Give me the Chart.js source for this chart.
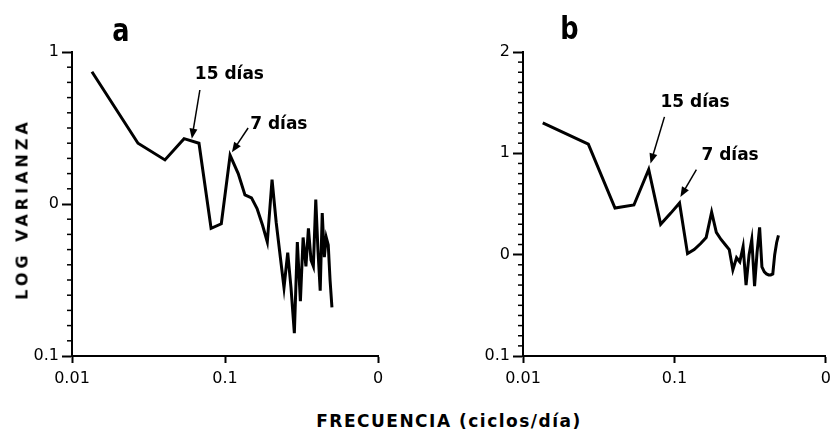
<!DOCTYPE html>
<html>
<head>
<meta charset="utf-8">
<script src="https://cdn.jsdelivr.net/npm/chart.js@4.4.1/dist/chart.umd.min.js"></script>
<style>
body{margin:0;background:#fff;width:837px;height:436px;position:relative;overflow:hidden;font-family:"DejaVu Sans",sans-serif;color:#000;}
canvas{position:absolute;top:0;}
#graficaA{left:0;}
#graficaB{left:420px;}
.letra{position:absolute;font-weight:bold;font-size:32px;line-height:1;transform:scaleX(0.8);}
#ytitulo{position:absolute;left:22px;top:209px;transform:translate(-50%,-50%) rotate(-90deg);font-size:16px;font-weight:bold;letter-spacing:4px;white-space:nowrap;}
#xtitulo{position:absolute;left:449px;top:421px;transform:translate(-50%,-50%);font-size:17px;font-weight:bold;letter-spacing:1.5px;white-space:nowrap;}
</style>
</head>
<body>
<canvas id="graficaA" width="420" height="400"></canvas>
<canvas id="graficaB" width="417" height="400"></canvas>
<div class="letra" style="left:110px;top:14px;">a</div>
<div class="letra" style="left:558px;top:12px;">b</div>
<div id="ytitulo">LOG VARIANZA</div>
<div id="xtitulo">FRECUENCIA (ciclos/día)</div>
<script>
// frecuencias (ciclos/dia) de cada punto del espectro
const frecuencias = [0.0135, 0.027, 0.0405, 0.054, 0.0676, 0.0811, 0.0946, 0.108, 0.122, 0.135,
    0.149, 0.162, 0.176, 0.189, 0.203, 0.216, 0.230, 0.243, 0.257, 0.270,
    0.284, 0.297, 0.311, 0.324, 0.338, 0.351, 0.365, 0.378, 0.392, 0.405,
    0.419, 0.432, 0.446, 0.459, 0.473, 0.486, 0.5];

// log varianza, medida en decadas desde el fondo del eje
const varianzaA = [1.87, 1.40, 1.29, 1.43, 1.40, 0.84, 0.87, 1.32, 1.20, 1.06,
    1.04, 0.97, 0.86, 0.75, 1.16, 0.88, 0.65, 0.45, 0.68, 0.45,
    0.15, 0.75, 0.36, 0.78, 0.59, 0.84, 0.63, 0.59, 1.03, 0.70,
    0.43, 0.94, 0.65, 0.78, 0.73, 0.50, 0.32];
const varianzaB = [2.30, 2.09, 1.46, 1.49, 1.84, 1.30, 1.41, 1.51, 1.01, 1.05,
    1.11, 1.17, 1.42, 1.22, 1.15, 1.10, 1.05, 0.85, 0.97, 0.93,
    1.08, 0.70, 1.00, 1.15, 0.69, 1.02, 1.27, 0.88, 0.83, 0.81,
    0.80, 0.80, 0.81, 1.00, 1.12, 1.19];

// etiquetas de los ejes (tal como salen en la figura)
const xTicks = [0.01, 0.1, 1];
const xEtiquetas = ['0.01', '0.1', '0'];
const yTicksA = [0, 1, 2];
const yEtiquetasA = ['0.1', '0', '1'];
const yTicksB = [0, 1, 2, 3];
const yEtiquetasB = ['0.1', '0', '1', '2'];

// flechas con texto: [texto, x texto, y texto, x desde, y desde, x hasta, y hasta]
const notasA = [
    ['15 días', 0.0635, 1.85, 0.0685, 1.75, 0.0607, 1.43],
    ['7 días', 0.146, 1.52, 0.1416, 1.50, 0.111, 1.34]
];
const notasB = [
    ['15 días', 0.0809, 2.50, 0.0859, 2.36, 0.0695, 1.90],
    ['7 días', 0.1506, 1.98, 0.1396, 1.84, 0.1094, 1.57]
];

const fuente = {family: 'DejaVu Sans', size: 16};

// ticks pequeños del eje vertical (cada 0.1)
const ticksMenores = {
    id: 'ticksMenores',
    afterDraw(chart) {
        const y = chart.scales.y;
        const ctx = chart.ctx;
        const izq = chart.chartArea.left;
        ctx.save();
        ctx.strokeStyle = '#000';
        ctx.lineWidth = 1.5;
        for (let i = Math.round(y.min * 10); i <= Math.round(y.max * 10); i++) {
            if (i % 10 === 0) continue;
            const py = y.getPixelForValue(i / 10);
            ctx.beginPath();
            ctx.moveTo(izq - 5, py);
            ctx.lineTo(izq, py);
            ctx.stroke();
        }
        ctx.restore();
    }
};

// textos con flecha
const flechas = {
    id: 'flechas',
    afterDatasetsDraw(chart, args, opts) {
        const ctx = chart.ctx;
        const sx = chart.scales.x, sy = chart.scales.y;
        ctx.save();
        ctx.fillStyle = '#000';
        ctx.strokeStyle = '#000';
        ctx.font = 'bold 17px "DejaVu Sans"';
        ctx.textBaseline = 'middle';
        opts.notas.forEach(n => {
            ctx.fillText(n[0], sx.getPixelForValue(n[1]), sy.getPixelForValue(n[2]));
            const x1 = sx.getPixelForValue(n[3]), y1 = sy.getPixelForValue(n[4]);
            const x2 = sx.getPixelForValue(n[5]), y2 = sy.getPixelForValue(n[6]);
            const ang = Math.atan2(y2 - y1, x2 - x1);
            ctx.lineWidth = 1.5;
            ctx.beginPath();
            ctx.moveTo(x1, y1);
            ctx.lineTo(x2 - 8 * Math.cos(ang), y2 - 8 * Math.sin(ang));
            ctx.stroke();
            ctx.beginPath();
            ctx.moveTo(x2, y2);
            ctx.lineTo(x2 - 10 * Math.cos(ang) + 4 * Math.sin(ang), y2 - 10 * Math.sin(ang) - 4 * Math.cos(ang));
            ctx.lineTo(x2 - 10 * Math.cos(ang) - 4 * Math.sin(ang), y2 - 10 * Math.sin(ang) + 4 * Math.cos(ang));
            ctx.closePath();
            ctx.fill();
        });
        ctx.restore();
    }
};

function dibujarGrafica(id, valores, yMax, yTicks, yEtiquetas, notas, anchoY, padDer) {
    const puntos = valores.map((v, i) => ({x: frecuencias[i], y: v}));
    return new Chart(document.getElementById(id), {
        type: 'line',
        data: {
            datasets: [{
                data: puntos,
                borderColor: '#000',
                borderWidth: 3,
                pointRadius: 0,
                tension: 0,
                fill: false
            }]
        },
        options: {
            responsive: false,
            animation: false,
            layout: {padding: {top: 52, right: padDer, left: 0, bottom: 0}},
            plugins: {
                legend: {display: false},
                tooltip: {enabled: false},
                flechas: {notas: notas}
            },
            scales: {
                x: {
                    type: 'logarithmic',
                    min: 0.01,
                    max: 1,
                    afterBuildTicks: s => { s.ticks = xTicks.map(v => ({value: v})); },
                    afterFit: s => { s.height = 44; },
                    ticks: {
                        autoSkip: false,
                        maxRotation: 0,
                        padding: 6,
                        color: '#000',
                        font: fuente,
                        callback: (v, i) => xEtiquetas[i]
                    },
                    grid: {drawOnChartArea: false, drawTicks: true, tickLength: 7, tickWidth: 2, tickColor: '#000'},
                    border: {display: true, color: '#000', width: 2}
                },
                y: {
                    type: 'linear',
                    min: 0,
                    max: yMax,
                    afterBuildTicks: s => { s.ticks = yTicks.map(v => ({value: v})); },
                    afterFit: s => { s.width = anchoY; },
                    ticks: {
                        autoSkip: false,
                        padding: 3,
                        color: '#000',
                        font: fuente,
                        callback: (v, i) => yEtiquetas[i]
                    },
                    grid: {drawOnChartArea: false, drawTicks: true, tickLength: 10, tickWidth: 2, tickColor: '#000'},
                    border: {display: true, color: '#000', width: 2}
                }
            }
        },
        plugins: [ticksMenores, flechas]
    });
}

dibujarGrafica('graficaA', varianzaA, 2, yTicksA, yEtiquetasA, notasA, 72, 42);
dibujarGrafica('graficaB', varianzaB, 3, yTicksB, yEtiquetasB, notasB, 103, 10);
</script>
</body>
</html>
